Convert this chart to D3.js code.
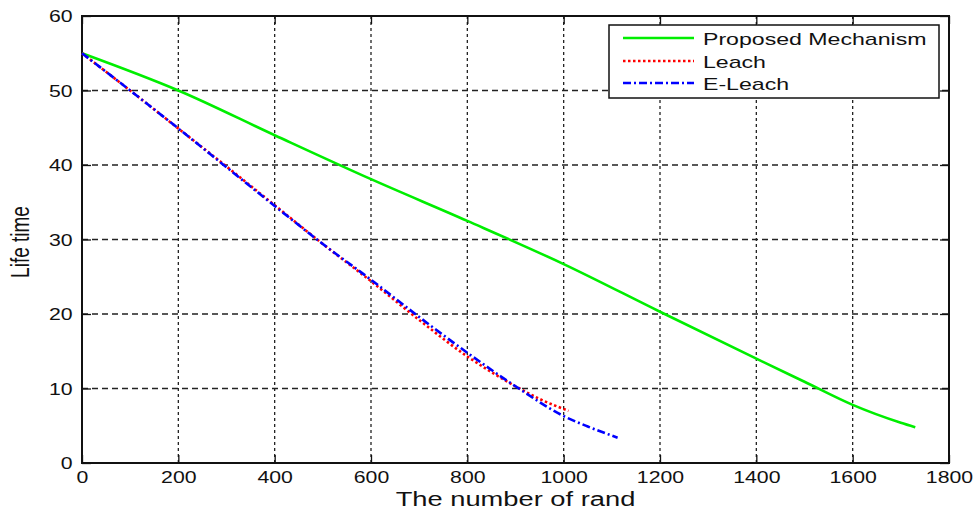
<!DOCTYPE html>
<html>
<head>
<meta charset="utf-8">
<script src="https://cdn.jsdelivr.net/npm/d3@7"></script>
<style>
  body { margin: 0; background: #fff; }
  text { font-family: "Liberation Sans", Arial, sans-serif; fill: #111; }
</style>
</head>
<body>
<svg id="chart" width="977" height="512"></svg>
<script>
// data
var xTicks = [0, 200, 400, 600, 800, 1000, 1200, 1400, 1600, 1800];
var yTicks = [0, 10, 20, 30, 40, 50, 60];

var proposedX = [0, 200, 400, 600, 800, 1000, 1200, 1400, 1500, 1600, 1700, 1730];
var proposedY = [55, 50, 44, 38.1, 32.5, 26.7, 20.3, 14.0, 10.9, 7.8, 5.4, 4.8];

var leachX = [0, 100, 200, 300, 400, 500, 600, 700, 800, 850, 900, 950, 1010];
var leachY = [55, 50, 44.9, 39.8, 34.6, 29.4, 24.4, 19.2, 14.3, 12.2, 10.3, 8.6, 7.0];

var eleachX = [0, 100, 200, 300, 400, 500, 600, 700, 800, 900, 1000, 1050, 1112];
var eleachY = [55, 50, 44.9, 39.7, 34.5, 29.4, 24.6, 19.6, 14.8, 10.3, 6.3, 4.9, 3.4];

var seriesNames = ["Proposed Mechanism", "Leach", "E-Leach"];

// looks
var pad = {left: 82, top: 16, right: 28, bottom: 49};
var W = 977, H = 512;
var stretch = 1.33;   // the original picture is squeezed wide, so text is too

var styles = [
  {color: "#00ee00", dash: null},
  {color: "#ff0000", dash: "2.5,2.5"},
  {color: "#0000ff", dash: "8,3,2,3"}
];

var svg = d3.select("#chart");

var x = d3.scaleLinear().domain([0, 1800]).range([pad.left, W - pad.right]);
var y = d3.scaleLinear().domain([0, 60]).range([H - pad.bottom, pad.top]);

//grid
svg.append("g").selectAll("line").data(xTicks.slice(1, -1)).join("line")
   .attr("x1", d => x(d)).attr("x2", d => x(d))
   .attr("y1", y(0)).attr("y2", y(60))
   .attr("stroke", "#222").attr("stroke-width", 1.3)
   .attr("stroke-dasharray", "3,3");
svg.append("g").selectAll("line").data(yTicks.slice(1, -1)).join("line")
   .attr("y1", d => y(d)).attr("y2", d => y(d))
   .attr("x1", x(0)).attr("x2", x(1800))
   .attr("stroke", "#222").attr("stroke-width", 1.3)
   .attr("stroke-dasharray", "6,4");

//axes with inward ticks
var xAxis = svg.append("g")
   .attr("transform", "translate(0," + y(0) + ")")
   .call(d3.axisBottom(x).tickValues(xTicks).tickSize(-8).tickFormat(d3.format("d")));
var xTop = svg.append("g")
   .attr("transform", "translate(0," + y(60) + ")")
   .call(d3.axisTop(x).tickValues(xTicks).tickSize(-8).tickFormat(""));
var yAxis = svg.append("g")
   .attr("transform", "translate(" + x(0) + ",0)")
   .call(d3.axisLeft(y).tickValues(yTicks).tickSize(-9));
var yRight = svg.append("g")
   .attr("transform", "translate(" + x(1800) + ",0)")
   .call(d3.axisRight(y).tickValues(yTicks).tickSize(-9).tickFormat(""));

[xAxis, xTop, yAxis, yRight].forEach(function(a) {
  a.select(".domain").remove();
  a.selectAll(".tick line").attr("stroke", "#111").attr("stroke-width", 1.3);
});

xAxis.selectAll(".tick text")
   .attr("y", 20).attr("dy", 0)
   .attr("font-size", 16)
   .attr("transform", "scale(" + stretch + ",1)");
yAxis.selectAll(".tick text")
   .attr("x", -7).attr("dy", "0.36em")
   .attr("font-size", 16)
   .attr("transform", "scale(" + stretch + ",1)");

//box
svg.append("rect")
   .attr("x", x(0)).attr("y", y(60))
   .attr("width", x(1800) - x(0)).attr("height", y(0) - y(60))
   .attr("fill", "none").attr("stroke", "#111").attr("stroke-width", 2);

//the lines
var seriesData = [
  d3.zip(proposedX, proposedY),
  d3.zip(leachX, leachY),
  d3.zip(eleachX, eleachY)
];
var line = d3.line().x(d => x(d[0])).y(d => y(d[1])).curve(d3.curveMonotoneX);

seriesData.forEach(function(pts, i) {
  svg.append("path")
     .attr("d", line(pts))
     .attr("fill", "none")
     .attr("stroke", styles[i].color)
     .attr("stroke-width", 2.6)
     .attr("stroke-dasharray", styles[i].dash);
});

//axis titles
svg.append("text")
   .attr("transform", "translate(" + ((x(0) + x(1800)) / 2) + ",506) scale(1.3,1)")
   .attr("text-anchor", "middle")
   .attr("font-size", 21)
   .text("The number of rand");
svg.append("text")
   .attr("transform", "translate(29,242) scale(" + stretch + ",1) rotate(-90)")
   .attr("text-anchor", "middle")
   .attr("font-size", 19)
   .text("Life time");

//legend
var leg = svg.append("g");
leg.append("rect")
   .attr("x", 609).attr("y", 25).attr("width", 330).attr("height", 73)
   .attr("fill", "#fff").attr("stroke", "#111").attr("stroke-width", 1.5);
var rowY = [38, 61, 83];
seriesNames.forEach(function(name, i) {
  leg.append("line")
     .attr("x1", 623).attr("x2", 694)
     .attr("y1", rowY[i]).attr("y2", rowY[i])
     .attr("stroke", styles[i].color)
     .attr("stroke-width", 2.6)
     .attr("stroke-dasharray", styles[i].dash);
  leg.append("text")
     .attr("transform", "translate(703," + (rowY[i] + 6.5) + ") scale(1.36,1)")
     .attr("font-size", 17)
     .text(name);
});
</script>
</body>
</html>
